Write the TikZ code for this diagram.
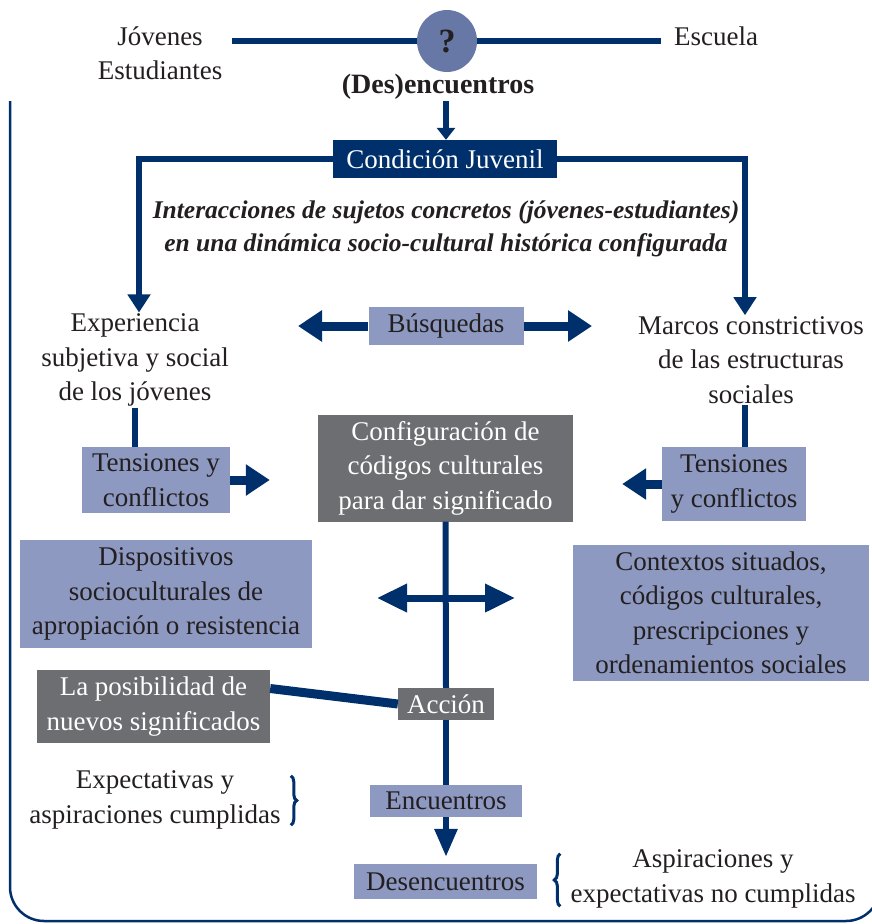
\documentclass[tikz,border=0pt]{standalone}
\usepackage{fontspec}
\setmainfont{Liberation Serif}
\usetikzlibrary{arrows.meta, positioning, calc, shapes.geometric, decorations.pathreplacing}
\definecolor{navy}{RGB}{0,48,107}
\definecolor{lila}{RGB}{141,153,192}
\definecolor{gris}{RGB}{109,110,114}
\definecolor{tinta}{RGB}{35,31,32}
\definecolor{bola}{RGB}{104,120,166}
\tikzset{
  texto/.style={text=tinta, align=center, inner sep=1pt},
  claro/.style={fill=lila, text=tinta, align=center, inner sep=2pt},
  oscuro/.style={fill=gris, text=white, align=center, inner sep=2pt},
  azul/.style={fill=navy, text=white, inner sep=2pt},
  linea/.style={draw=navy, line width=6pt},
  flecha/.style={linea, -{Triangle[width=22pt, length=18pt]}},
  gflecha/.style={draw=navy, line width=9pt, -{Triangle[width=30pt, length=24pt]}},
  dflecha/.style={draw=navy, line width=7pt, {Triangle[width=27pt, length=30pt]}-{Triangle[width=27pt, length=30pt]}},
  llave/.style={draw=navy, line width=3pt, decorate, decoration={brace, amplitude=6pt}},
}

\begin{document}
\begin{tikzpicture}[x=1pt, y=-1pt, font=\fontsize{27}{34.5}\selectfont]
    \useasboundingbox (0,0) rectangle (871,924);
    \draw[navy, line width=2.5pt, rounded corners=34pt] (10,101) -- (10,921) -- (880,921) -- (880,840);

    % cabecera
    \node[texto] (jov) at (160,53) {Jóvenes\\Estudiantes};
    \node[texto] (esc) at (716,36) {Escuela};
    \coordinate (preg) at (447,41);
    \draw[linea] ([xshift=9pt]jov.east |- preg) -- ([xshift=-12pt]esc.west |- preg);
    \node[ellipse, fill=bola, minimum width=60pt, minimum height=62pt, inner sep=0pt,
      text=tinta, font=\fontsize{34}{36}\selectfont\bfseries] (q) at (preg) {?};
    \node[texto, font=\fontsize{28}{30}\selectfont\bfseries] (des) at (438,87) {(Des)encuentros};

    \node[azul, minimum width=224pt, minimum height=38pt] (cj) at (445,159) {Condición Juvenil};
    \draw[linea, -{Triangle[width=18pt, length=12pt]}] ([xshift=8pt]des.south) -- ([xshift=8pt]des.south |- cj.north);

    \node[texto, font=\fontsize{25.5}{33}\selectfont\bfseries\itshape] (inter) at (446,229)
      {Interacciones de sujetos concretos (jóvenes-estudiantes)\\en una dinámica socio-cultural histórica configurada};

    % ramas
    \node[texto] (exp) at (135,360) {Experiencia\\subjetiva y social\\de los jóvenes};
    \node[texto] (mar) at (751,360) {Marcos constrictivos\\de las estructuras\\sociales};
    \draw[flecha] (cj.west) -| ([xshift=4pt]exp.north);
    \draw[flecha] (cj.east) -| ([xshift=-6pt]mar.north);

    \node[claro, minimum width=155pt, minimum height=38pt] (busq) at (446,326) {Búsquedas};
    \coordinate (bi) at (298,326);
    \coordinate (bd) at (592,326);
    \draw[gflecha] (busq.west) -- (bi);
    \draw[gflecha] (busq.east) -- (bd);

    \node[oscuro, minimum width=255pt, minimum height=107pt] (config) at (445.5,468)
      {Configuración de\\códigos culturales\\para dar significado};
    \node[claro, minimum width=148pt, minimum height=66pt] (tens1) at (156,480) {Tensiones y\\conflictos};
    \node[claro, minimum width=144pt, minimum height=74pt] (tens2) at (734,484) {Tensiones\\y conflictos};
    \draw[linea] (exp.south) -- (exp.south |- tens1.north);
    \draw[linea] ([xshift=-6pt]mar.south) -- ([xshift=-6pt]mar.south |- tens2.north);
    \draw[gflecha] (tens1.east) -- ([xshift=-48pt]config.west |- tens1.east);
    \draw[gflecha] (tens2.west) -- ([xshift=49pt]config.east |- tens2.west);

    % eje central
    \node[claro, minimum width=292pt, minimum height=108pt] (disp) at (166,594)
      {Dispositivos\\socioculturales de\\apropiación o resistencia};
    \node[claro, minimum width=296pt, minimum height=136pt] (ctx) at (721,613)
      {Contextos situados,\\códigos culturales,\\prescripciones y\\ordenamientos sociales};
    \node[oscuro, minimum width=233pt, minimum height=73pt] (posib) at (153.5,706.5)
      {La posibilidad de\\nuevos significados};
    \node[oscuro, minimum width=96pt, minimum height=32pt] (accion) at (446,704) {Acción};
    \node[claro, minimum width=152pt, minimum height=32pt] (encu) at (446,801) {Encuentros};
    \node[claro, minimum width=183pt, minimum height=35pt] (desenc) at (445.5,881.5) {Desencuentros};

    \draw[linea] (config.south) -- (accion.north);
    \draw[linea] (accion.south) -- (encu.north);
    \draw[linea, -{Triangle[width=22pt, length=28pt]}, shorten >=7pt] (encu.south) -- (encu.south |- desenc.north);
    \coordinate (ci) at (377,598);
    \coordinate (cd) at (515,598);
    \draw[dflecha] (ci) -- (cd);
    \draw[draw=navy, line width=9pt] ([yshift=18pt]posib.east) -- (accion.west);

    % resultados
    \node[texto] (expe) at (155,800) {Expectativas y\\aspiraciones cumplidas};
    \node[texto] (aspi) at (713,879) {Aspiraciones y\\expectativas no cumplidas};
    \draw[llave] ([xshift=9pt, yshift=-6pt]expe.north east) -- ([xshift=9pt, yshift=5pt]expe.south east);
    \draw[llave] ([xshift=-9pt, yshift=3pt]aspi.south west) -- ([xshift=-9pt, yshift=-5pt]aspi.north west);
\end{tikzpicture}
\end{document}
